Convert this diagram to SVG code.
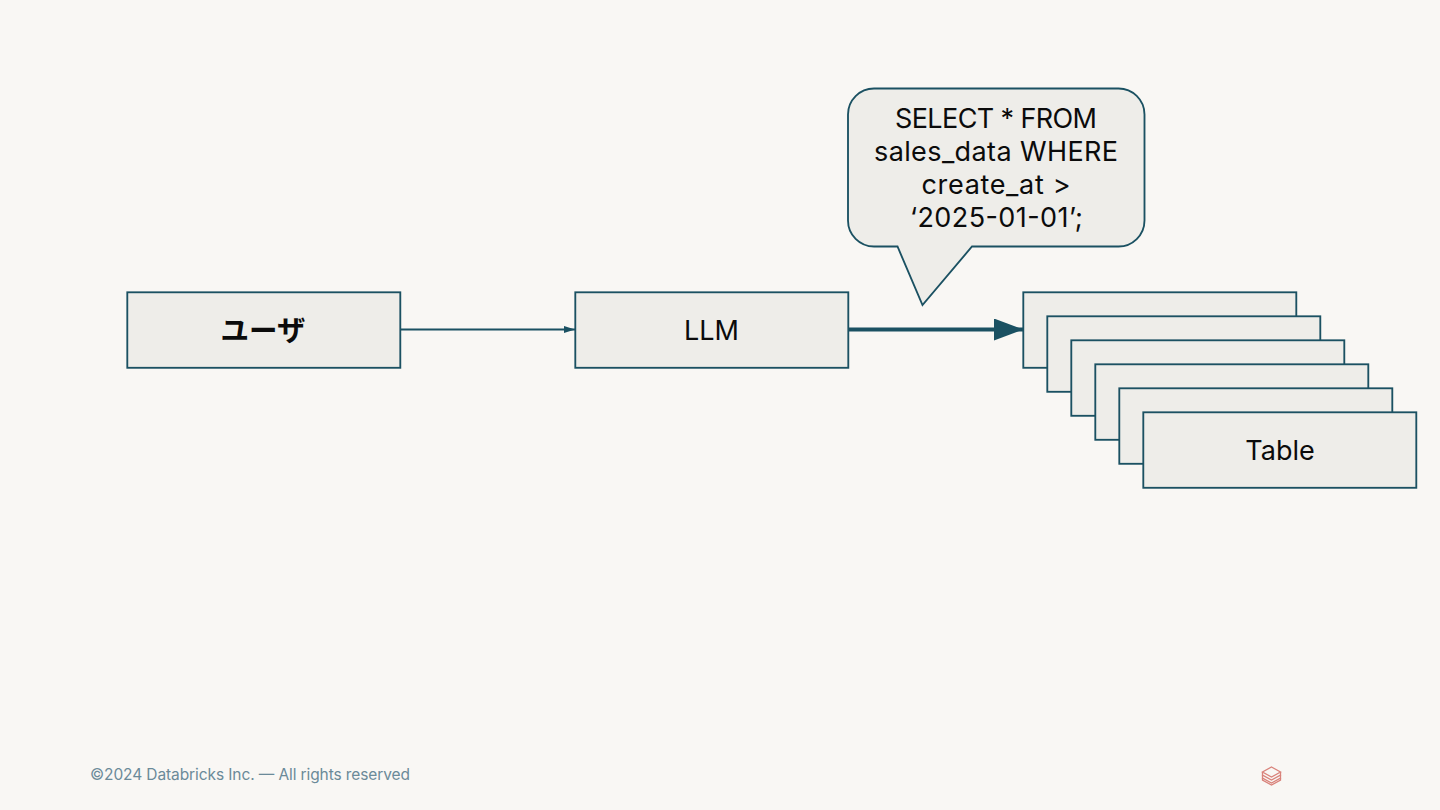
<svg xmlns="http://www.w3.org/2000/svg" width="1440" height="810" viewBox="0 0 1440 810">
<style>
.box{fill:#EEEDE9;stroke:#1B5162;stroke-width:1.850}
.t{font-family:"Inter","Noto Sans CJK JP",sans-serif;font-size:27px;fill:#0B0B0B;text-anchor:middle}
.c{stroke:#1B5162;fill:none}
</style>
<defs>
<marker id="a1" markerUnits="userSpaceOnUse" markerWidth="12" markerHeight="8" refX="11" refY="4" orient="auto"><path d="M0 0.500L11 4L0 7.500Z" fill="#1B5162"/></marker>
<marker id="a2" markerUnits="userSpaceOnUse" markerWidth="30" markerHeight="22" refX="29" refY="11" orient="auto"><path d="M0 0L29 11L0 22Z" fill="#1B5162"/></marker>
</defs>
<rect width="1440" height="810" fill="#F9F7F4"/>
<g id="connectors">
<path class="c" stroke-width="1.850" d="M400 329.500H575" marker-end="url(#a1)"/>
<path class="c" stroke-width="4" d="M848 329.500H1023" marker-end="url(#a2)"/>
</g>
<g id="user"><rect class="box" x="127.300" y="292.300" width="273" height="75.500"/><text class="t" x="263" y="340.700" font-weight="700" style="font-family:'Noto Sans CJK JP',sans-serif;font-size:28.500px">ユーザ</text></g>
<g id="llm"><rect class="box" x="575.300" y="292.300" width="273" height="75.500"/><text class="t" x="711.500" y="340">LLM</text></g>
<g id="table1"><rect class="box" x="1023.300" y="292.300" width="273" height="75.500"/></g>
<g id="table2"><rect class="box" x="1047.300" y="316.300" width="273" height="75.500"/></g>
<g id="table3"><rect class="box" x="1071.300" y="340.300" width="273" height="75.500"/></g>
<g id="table4"><rect class="box" x="1095.300" y="364.300" width="273" height="75.500"/></g>
<g id="table5"><rect class="box" x="1119.300" y="388.300" width="273" height="75.500"/></g>
<g id="table6"><rect class="box" x="1143.300" y="412.300" width="273" height="75.500"/><text class="t" x="1280" y="460">Table</text></g>
<g id="callout">
<path class="box" d="M874 88.500H1118A26 26 0 0 1 1144.500 114.500V220.500A26 26 0 0 1 1118 246.500H972L922.500 305L897.500 246.500H874A26 26 0 0 1 848 220.500V114.500A26 26 0 0 1 874 88.500Z"/>
<text class="t" x="996" y="128" textLength="202">SELECT * FROM</text>
<text class="t" x="996" y="161" textLength="244">sales_data WHERE</text>
<text class="t" x="996" y="194" textLength="149">create_at &gt;</text>
<text class="t" x="996.500" y="227" textLength="173">‘2025-01-01’;</text>
</g>
<text id="footer" x="90" y="780" textLength="320" style="font-family:'Inter',sans-serif;font-size:15.500px;fill:#6B8A99">©2024 Databricks Inc. — All rights reserved</text>
<g id="logo" fill="none" stroke="#D9827A" stroke-width="1.300">
<path d="M1271.500 767L1280.500 772L1271.500 777L1262.500 772Z"/>
<path d="M1262.500 772V775L1271.500 780L1280.500 775V772"/>
<path d="M1262.500 775V778L1271.500 783L1280.500 778V775"/>
<path d="M1262.500 778V780L1271.500 785L1280.500 780V778"/>
</g>
</svg>
